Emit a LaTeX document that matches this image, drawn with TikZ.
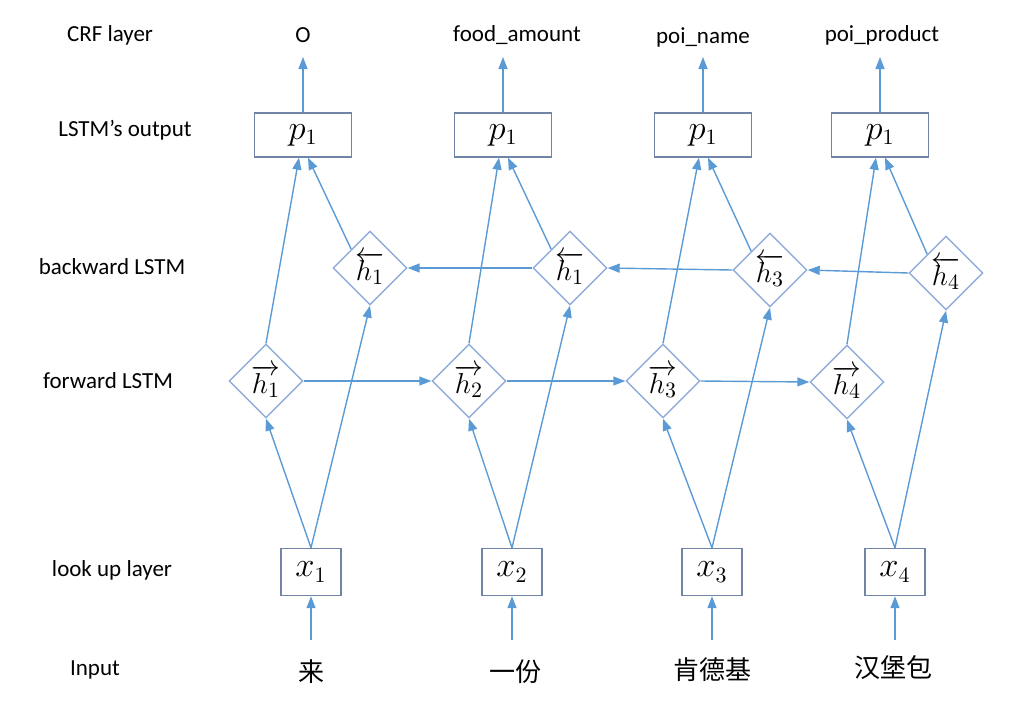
\documentclass[tikz,border=0pt]{standalone}
\usepackage{fontspec}
\setmainfont{Carlito}
\newfontfamily\cjk{Noto Sans CJK SC}
\usetikzlibrary{shapes.geometric,arrows.meta}
\definecolor{azul}{RGB}{91,155,213}
\definecolor{bordecelda}{RGB}{143,172,218}
\definecolor{bordecaja}{RGB}{112,132,165}
\begin{document}
\begin{tikzpicture}[
        x=0.5pt, y=-0.5pt,
        every node/.style={font=\fontsize{11.5}{14}\selectfont},
        caja/.style={draw=bordecaja, line width=0.7pt, minimum width=48.5pt, minimum height=22pt, inner sep=0pt, font=\fontsize{16}{18}\selectfont},
        cajax/.style={caja, minimum width=30pt, minimum height=23.5pt},
        celda/.style={diamond, draw=bordecelda, line width=0.7pt, minimum width=37pt, minimum height=37pt, inner sep=0pt, font=\fontsize{15}{17}\selectfont},
        entrada/.style={font=\cjk\fontsize{13}{15}\selectfont},
        flecha/.style={-{Triangle[length=6pt,width=4.5pt]}, draw=azul, line width=0.7pt}
    ]
    \useasboundingbox (0,0) rectangle (1014,714);

    % nombres de las capas
    \node (capacrf) at (110,35) {CRF layer};
    \node (capasalida) at (125,130) {LSTM’s output};
    \node (capaatras) at (112,267) {backward LSTM};
    \node (capaadelante) at (108,381) {forward LSTM};
    \node (capabusqueda) at (112,570) {look up layer};
    \node (capaentrada) at (95,670) {Input};

    % etiquetas CRF
    \node (crf1) at (303,35) {O};
    \node (crf2) at (517,35) {food\_amount};
    \node (crf3) at (703,37) {poi\_name};
    \node (crf4) at (882,35) {poi\_product};

    % salidas
    \node[caja] (p1) at (303,135) {$p_1$};
    \node[caja] (p2) at (503,135) {$p_1$};
    \node[caja] (p3) at (703,135) {$p_1$};
    \node[caja] (p4) at (880,135) {$p_1$};

    % LSTM hacia atras
    \node[celda] (b1) at (370,268) {$\overleftarrow{h_1}$};
    \node[celda] (b2) at (570,268) {$\overleftarrow{h_1}$};
    \node[celda] (b3) at (770,270) {$\overleftarrow{h_3}$};
    \node[celda] (b4) at (946,273) {$\overleftarrow{h_4}$};

    % LSTM hacia adelante
    \node[celda] (f1) at (266,381) {$\overrightarrow{h_1}$};
    \node[celda] (f2) at (469,381) {$\overrightarrow{h_2}$};
    \node[celda] (f3) at (663,381) {$\overrightarrow{h_3}$};
    \node[celda] (f4) at (847,382) {$\overrightarrow{h_4}$};

    % vectores de entrada
    \node[cajax] (x1) at (311,572) {$x_1$};
    \node[cajax] (x2) at (512,572) {$x_2$};
    \node[cajax] (x3) at (712,572) {$x_3$};
    \node[cajax] (x4) at (895,572) {$x_4$};

    % palabras
    \node[entrada] (w1) at (311,672) {来};
    \node[entrada] (w2) at (515,672) {一份};
    \node[entrada] (w3) at (712,670) {肯德基};
    \node[entrada] (w4) at (893,668) {汉堡包};

    \draw [flecha] (p1.north) -- (p1.north |- 0,57);
    \draw [flecha] (p2.north) -- (p2.north |- 0,57);
    \draw [flecha] (p3.north) -- (p3.north |- 0,57);
    \draw [flecha] (p4.north) -- (p4.north |- 0,57);

    \draw [flecha] (f1.north) -- ([xshift=-2pt]p1.south);
    \draw [flecha] (b1.north west) -- ([xshift=2.5pt]p1.south);
    \draw [flecha] (f2.north) -- ([xshift=-2pt]p2.south);
    \draw [flecha] (b2.north west) -- ([xshift=2.5pt]p2.south);
    \draw [flecha] (f3.north) -- ([xshift=-2pt]p3.south);
    \draw [flecha] (b3.north west) -- ([xshift=2.5pt]p3.south);
    \draw [flecha] (f4.north) -- ([xshift=-2pt]p4.south);
    \draw [flecha] (b4.north west) -- ([xshift=2.5pt]p4.south);

    \draw [flecha] (f1.east) -- (f2.west);
    \draw [flecha] (f2.east) -- (f3.west);
    \draw [flecha] (f3.east) -- (f4.west);
    \draw [flecha] (b4.west) -- (b3.east);
    \draw [flecha] (b3.west) -- (b2.east);
    \draw [flecha] (b2.west) -- (b1.east);

    \draw [flecha] (x1.north) -- (f1.south);
    \draw [flecha] (x1.north) -- (b1.south);
    \draw [flecha] (x2.north) -- (f2.south);
    \draw [flecha] (x2.north) -- (b2.south);
    \draw [flecha] (x3.north) -- (f3.south);
    \draw [flecha] (x3.north) -- (b3.south);
    \draw [flecha] (x4.north) -- (f4.south);
    \draw [flecha] (x4.north) -- (b4.south);

    \draw [flecha] (x1.south |- 0,640) -- (x1.south);
    \draw [flecha] (x2.south |- 0,640) -- (x2.south);
    \draw [flecha] (x3.south |- 0,640) -- (x3.south);
    \draw [flecha] (x4.south |- 0,640) -- (x4.south);
\end{tikzpicture}
\end{document}
